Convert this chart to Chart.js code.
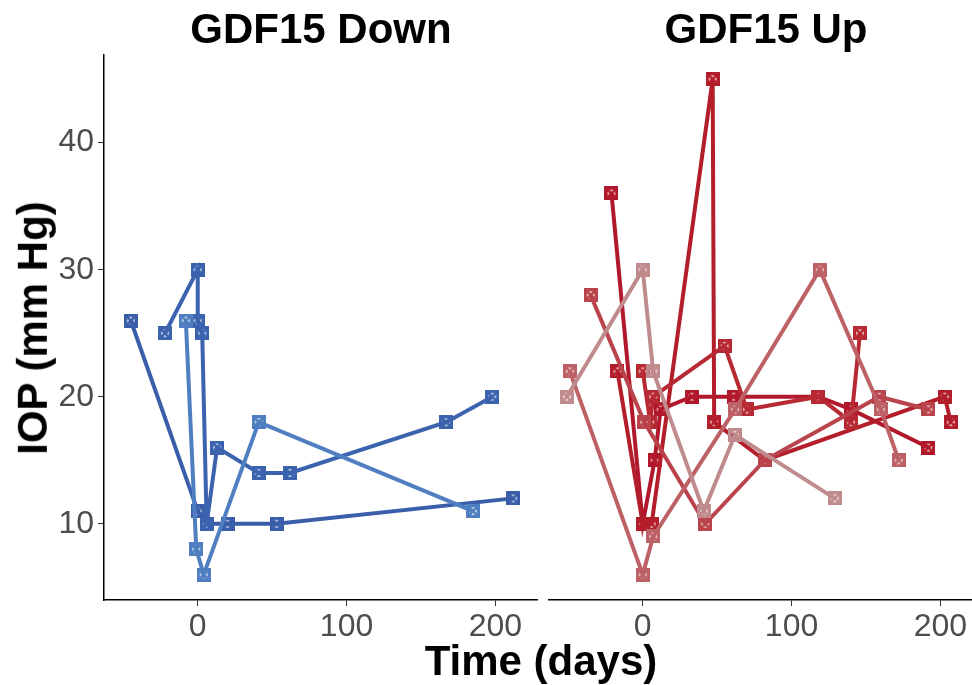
<!DOCTYPE html>
<html>
<head>
<meta charset="utf-8">
<script src="https://cdn.jsdelivr.net/npm/chart.js@4.4.0/dist/chart.umd.min.js"></script>
<style>
  body { margin: 0; width: 972px; height: 685px; overflow: hidden; background: #fff; position: relative;
         font-family: "Liberation Sans", Arial, sans-serif; }
  canvas { position: absolute; top: 0; }
  #downChart { left: 0; }
  #upChart { left: 540px; }
  .lbl { position: absolute; font-weight: bold; font-size: 42px; color: #000; white-space: nowrap;
         transform: translate(-50%, -50%); line-height: 1.15; }
</style>
</head>
<body>
<canvas id="downChart" width="540" height="685"></canvas>
<canvas id="upChart" width="445" height="685"></canvas>
<div class="lbl" style="left:321px;top:29px">GDF15 Down</div>
<div class="lbl" style="left:766px;top:29px">GDF15 Up</div>
<div class="lbl" style="left:541px;top:661px">Time (days)</div>
<div class="lbl" style="left:33px;top:328px;transform:translate(-50%,-50%) rotate(-90deg)">IOP (mm Hg)</div>
<script>
// GDF15 Down panel, one pair of arrays per eye
const downA_x = [-45, 0, 6, 20, 53, 212];
const downA_y = [26, 11, 10, 10, 10, 12];
const downB_x = [-22, 0, 0, 3, 6, 13, 41, 62, 167, 198];
const downB_y = [25, 30, 26, 25, 10, 16, 14, 14, 18, 20];
const downC_x = [-8, -1, 4, 41, 185];
const downC_y = [26, 8, 6, 18, 11];

// GDF15 Up panel
const upA_x = [-21, 0, 8, 12, 33, 61, 118, 140, 192];
const upA_y = [36, 10, 15, 19, 20, 20, 20, 19, 16];
const upB_x = [-17, 0, 6, 47, 48, 82, 203, 207];
const upB_y = [22, 10, 10, 45, 18, 15, 20, 18];
const upC_x = [0, 5, 7, 55, 70, 118, 140, 146];
const upC_y = [22, 18, 20, 24, 19, 20, 18, 25];
const upD_x = [-35, 1, 42, 82, 159, 192];
const upD_y = [28, 18, 10, 15, 20, 19];
const upE_x = [-49, 0, 7, 62, 119, 160, 172];
const upE_y = [22, 6, 9, 19, 30, 19, 15];
const upF_x = [-51, 0, 7, 41, 62, 129];
const upF_y = [20, 30, 22, 11, 17, 12];

const xTicks = [0, 100, 200];
const yTicks = [10, 20, 30, 40];

// square with an X inside (ggplot shape 7)
function boxX(color) {
  const c = document.createElement('canvas');
  c.width = 14; c.height = 14;
  const g = c.getContext('2d');
  g.strokeStyle = color;
  g.lineWidth = 3.4;
  g.strokeRect(1.7, 1.7, 10.6, 10.6);
  g.lineWidth = 2.6;
  g.beginPath();
  g.moveTo(2, 2); g.lineTo(12, 12);
  g.moveTo(12, 2); g.lineTo(2, 12);
  g.stroke();
  return c;
}

function series(xs, ys, color) {
  return {
    data: xs.map((x, i) => ({ x: x, y: ys[i] })),
    borderColor: color,
    borderWidth: 4,
    tension: 0,
    pointStyle: boxX(color),
    pointRadius: 7,
    clip: false
  };
}

function options(isLeft) {
  return {
    responsive: false,
    animation: false,
    layout: { autoPadding: false, padding: { top: 55, left: isLeft ? 0 : 9, right: 3, bottom: 0 } },
    plugins: { legend: { display: false }, tooltip: { enabled: false } },
    scales: {
      x: {
        type: 'linear', min: -63, max: 228,
        afterBuildTicks: s => { s.ticks = xTicks.map(v => ({ value: v })); },
        afterFit: s => { s.height = 85; },
        border: { display: true, color: '#000', width: 1.5 },
        grid: { display: true, drawOnChartArea: false, drawTicks: true, tickLength: 6, color: '#333' },
        ticks: { color: '#4d4d4d', font: { size: 32, family: 'Liberation Sans' }, padding: 2, maxRotation: 0 }
      },
      y: {
        type: 'linear', min: 4, max: 46.9, display: isLeft,
        afterBuildTicks: s => { s.ticks = yTicks.map(v => ({ value: v })); },
        afterFit: s => { s.width = isLeft ? 104 : 0; },
        border: { display: true, color: '#000', width: 1.5 },
        grid: { display: true, drawOnChartArea: false, drawTicks: true, tickLength: 6, color: '#333' },
        ticks: { color: '#4d4d4d', font: { size: 32, family: 'Liberation Sans' }, padding: 4 }
      }
    }
  };
}

new Chart(document.getElementById('downChart'), {
  type: 'line',
  data: {
    datasets: [
      series(downC_x, downC_y, '#4f7fc1'),
      series(downB_x, downB_y, '#3c63ae'),
      series(downA_x, downA_y, '#3a5ea9')
    ]
  },
  options: options(true)
});

new Chart(document.getElementById('upChart'), {
  type: 'line',
  data: {
    datasets: [
      series(upF_x, upF_y, '#c08b8d'),
      series(upE_x, upE_y, '#bd6167'),
      series(upD_x, upD_y, '#ba444c'),
      series(upC_x, upC_y, '#b72a33'),
      series(upB_x, upB_y, '#b41e2a'),
      series(upA_x, upA_y, '#b2182b')
    ]
  },
  options: options(false)
});
</script>
</body>
</html>
